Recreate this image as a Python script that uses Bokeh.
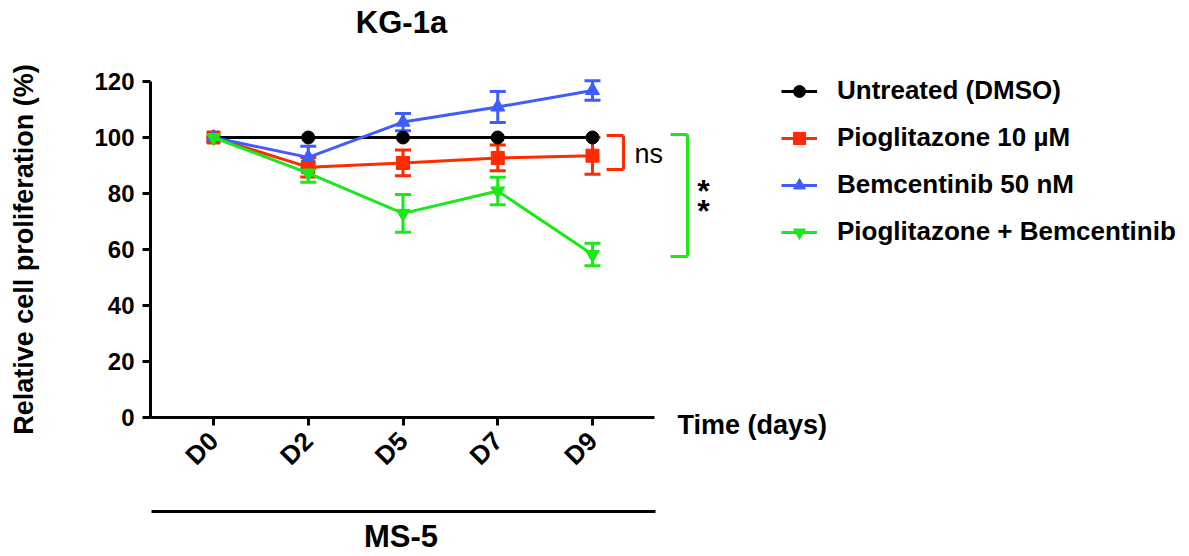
import math
from bokeh.plotting import figure
from bokeh.models import (ColumnDataSource, Whisker, TeeHead, Label, Arrow,
                          FixedTicker, Legend, LegendItem, LinearAxis)
from bokeh.embed import file_html
from bokeh.resources import INLINE

# ---------------- data ----------------
days = ["D0", "D2", "D5", "D7", "D9"]
untreated = [100, 100, 100, 100, 100]
untreated_err = [0, 0, 0, 0, 0]
pio = [100, 89.4, 90.9, 92.7, 93.5]
pio_err = [0, 3.5, 4.6, 4.6, 6.6]
bem = [100, 92.9, 105.5, 110.9, 116.8]
bem_err = [0, 4.0, 3.1, 5.5, 3.5]
combo = [100, 87.3, 72.9, 80.9, 58.2]
combo_err = [0, 3.3, 6.7, 4.9, 4.0]

series_names = ["Untreated (DMSO)", "Pioglitazone 10 \u00b5M",
                "Bemcentinib 50 nM", "Pioglitazone + Bemcentinib"]
y_ticks = [0, 20, 40, 60, 80, 100, 120]

# significance brackets (y spans, data units)
ns_span = [100.7, 88.6]
star_span = [101.1, 57.5]

FONT = "Liberation Sans"
BLACK = "#000000"
RED = "#FF2A00"
BLUE = "#3F5CFF"
GREEN = "#1AE81A"

W, H = 1189, 556
PX_X = 94.75          # px per category step
PX_Y = 2.8            # px per percent
D0_PX = 213           # canvas x of D0
ZERO_PX = 417         # canvas y of 0 %
xs = list(range(len(days)))
x0 = -D0_PX / PX_X
x1 = x0 + W / PX_X
y1 = ZERO_PX / PX_Y
y0 = y1 - H / PX_Y

AX_X = -0.665   # where y axis sits (data x)
AX_END = 4.654  # end of x axis line

p = figure(width=W, height=H, output_backend="svg", toolbar_location=None,
           x_range=(x0, x1), y_range=(y0, y1), title=None,
           x_axis_location=None, y_axis_location=None,
           min_border_left=0, min_border_right=0,
           min_border_top=0, min_border_bottom=0)
p.outline_line_color = None
p.background_fill_color = "white"
p.border_fill_color = "white"
p.grid.visible = False

yax = LinearAxis(fixed_location=AX_X, bounds=(0, 120),
                 ticker=FixedTicker(ticks=y_ticks))
yax.minor_tick_line_color = None
yax.major_tick_in = 0
yax.major_tick_out = 8
yax.axis_line_width = 3
yax.major_tick_line_width = 3
yax.major_label_text_font = FONT
yax.major_label_text_font_style = "bold"
yax.major_label_text_font_size = "24px"
yax.major_label_text_color = BLACK
yax.major_label_standoff = 8
yax.axis_label = "Relative cell proliferation (%)"
yax.axis_label_text_font = FONT
yax.axis_label_text_font_style = "bold"
yax.axis_label_text_font_size = "27px"
yax.axis_label_text_color = BLACK
yax.axis_label_standoff = 52
p.add_layout(yax, "left")

xax = LinearAxis(fixed_location=0, bounds=(AX_X, AX_END),
                 ticker=FixedTicker(ticks=xs))
xax.major_label_overrides = {i: d for i, d in zip(xs, days)}
xax.minor_tick_line_color = None
xax.major_tick_in = 0
xax.major_tick_out = 8
xax.axis_line_width = 3
xax.major_tick_line_width = 3
xax.major_label_orientation = math.pi / 4
xax.major_label_text_font = FONT
xax.major_label_text_font_style = "bold"
xax.major_label_text_font_size = "26px"
xax.major_label_text_color = BLACK
xax.major_label_standoff = 11
p.add_layout(xax, "below")

# series
specs = [
    (untreated, untreated_err, BLACK, "circle", 13),
    (pio, pio_err, RED, "square", 13),
    (bem, bem_err, BLUE, "triangle", 14),
    (combo, combo_err, GREEN, "inverted_triangle", 14),
]
items = []
for name, (vals, errs, col, mk, sz) in zip(series_names, specs):
    src = ColumnDataSource(dict(x=xs, y=vals))
    ln = p.line("x", "y", source=src, line_color=col, line_width=3)
    sc = p.scatter("x", "y", source=src, marker=mk, size=sz,
                   fill_color=col, line_color=col)
    ex = [x for x, e in zip(xs, errs) if e > 0]
    up = [v + e for v, e in zip(vals, errs) if e > 0]
    lo = [v - e for v, e in zip(vals, errs) if e > 0]
    if ex:
        esrc = ColumnDataSource(dict(base=ex, upper=up, lower=lo))
        w = Whisker(source=esrc, base="base", upper="upper", lower="lower",
                    dimension="height", line_color=col, line_width=3,
                    upper_head=TeeHead(size=16, line_color=col, line_width=3),
                    lower_head=TeeHead(size=16, line_color=col, line_width=3))
        p.add_layout(w)
    items.append(LegendItem(label=name, renderers=[ln, sc]))

legend = Legend(items=items, location=(781, 309), margin=0, padding=0,
                glyph_width=36, glyph_height=30, label_height=30,
                label_standoff=20, spacing=16,
                label_text_font=FONT, label_text_font_style="bold",
                label_text_font_size="26px", label_text_color=BLACK,
                border_line_color=None, background_fill_alpha=0)
p.add_layout(legend)

def seg(xa, ya, xb, yb, col, w=3):
    p.add_layout(Arrow(x_start=xa, y_start=ya, x_end=xb, y_end=yb, end=None,
                       start=None, line_color=col, line_width=w))

def label(x, y, text, size, bold=True, align="left"):
    p.add_layout(Label(x=x, y=y, text=text, text_font=FONT,
                       text_font_style="bold" if bold else "normal",
                       text_font_size=size, text_align=align,
                       text_color=BLACK))

# significance brackets
seg(4.148, ns_span[0], 4.327, ns_span[0], RED)
seg(4.327, ns_span[0], 4.327, ns_span[1], RED)
seg(4.327, ns_span[1], 4.148, ns_span[1], RED)
seg(4.823, star_span[0], 5.003, star_span[0], GREEN)
seg(5.003, star_span[0], 5.003, star_span[1], GREEN)
seg(5.003, star_span[1], 4.823, star_span[1], GREEN)

label(4.443, 88.8, "ns", "27px", bold=False)
for yy in [74.3, 67.5]:
    label(5.172, yy, "*", "32px", align="center")

# title, x label, group label
label(1.984, 135.0, "KG-1a", "31px", align="center")
label(4.897, -8.07, "Time (days)", "27px")
seg(-0.654, -33.6, 4.665, -33.6, BLACK)
label(1.979, -48.8, "MS-5", "31px", align="center")

open("out.html", "w").write(file_html(p, INLINE))
